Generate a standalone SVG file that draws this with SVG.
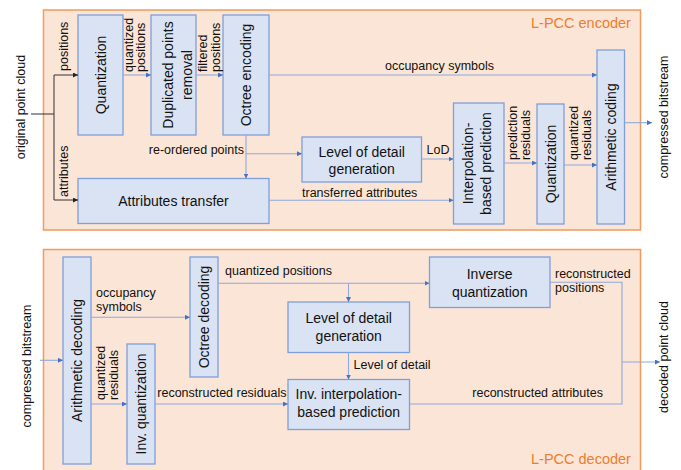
<svg xmlns="http://www.w3.org/2000/svg" width="681" height="470" viewBox="0 0 681 470">
<defs>
<marker id="ab" viewBox="0 0 6 6" refX="6" refY="3" markerWidth="5" markerHeight="5" markerUnits="userSpaceOnUse" orient="auto"><path d="M0,0 L6,3 L0,6 z" fill="#4472C4"/></marker>
<marker id="ak" viewBox="0 0 6 6" refX="6" refY="3" markerWidth="5" markerHeight="5" markerUnits="userSpaceOnUse" orient="auto"><path d="M0,0 L6,3 L0,6 z" fill="#222"/></marker>
<style>
.box{fill:#FBE5D6;stroke:#F19A5C;stroke-width:1.5}
.nd{fill:#DAE3F3;stroke:#7F9FDB;stroke-width:1.3}
.t{font-family:"Liberation Sans",Arial,sans-serif;font-size:14px;fill:#111}
.l{font-family:"Liberation Sans",Arial,sans-serif;font-size:12.5px;fill:#111}
.m{text-anchor:middle}
.ttl{font-family:"Liberation Sans",Arial,sans-serif;font-size:14.5px;fill:#ED7D31}
.c{fill:none;stroke:#8EA9DB;stroke-width:1.1}
.ca{fill:none;stroke:#8EA9DB;stroke-width:1.1;marker-end:url(#ab)}
.k{fill:none;stroke:#333;stroke-width:1}
.ka{fill:none;stroke:#333;stroke-width:1;marker-end:url(#ak)}
</style>
</defs>
<rect class="box" x="43.5" y="10" width="597" height="220"/>
<rect class="box" x="43.5" y="249.5" width="597" height="225"/>
<text class="ttl" x="531" y="28">L-PCC encoder</text>
<text class="ttl" x="531" y="463.5">L-PCC decoder</text>

<text class="l m" transform="translate(25,107) rotate(-90)">original point cloud</text>
<text class="l m" transform="translate(668,117) rotate(-90)">compressed bitstream</text>
<text class="l m" transform="translate(31,366) rotate(-90)">compressed bitstream</text>
<text class="l m" transform="translate(668,357) rotate(-90)">decoded point cloud</text>

<g id="enc-quant"><rect class="nd" x="78" y="15" width="45" height="120"/><text class="t m" transform="translate(100.5,75) rotate(-90)" y="5">Quantization</text></g>
<g id="enc-dup"><rect class="nd" x="151" y="15" width="45" height="120"/><text class="t m" transform="translate(173.5,75) rotate(-90)"><tspan x="0" y="-1">Duplicated points</tspan><tspan x="0" y="18">removal</tspan></text></g>
<g id="enc-octree"><rect class="nd" x="223" y="15" width="46" height="120"/><text class="t m" transform="translate(246,75) rotate(-90)" y="5">Octree encoding</text></g>
<g id="enc-lod"><rect class="nd" x="302" y="137" width="119.5" height="45"/><text class="t m"><tspan x="361.7" y="156.7">Level of detail</tspan><tspan x="361.7" y="173.5">generation</tspan></text></g>
<g id="enc-attr"><rect class="nd" x="78" y="178.5" width="191" height="45"/><text class="t m" x="173.5" y="205.5">Attributes transfer</text></g>
<g id="enc-interp"><rect class="nd" x="453.5" y="103" width="50.5" height="121"/><text class="t m" transform="translate(478.7,163.5) rotate(-90)"><tspan x="0" y="-5.5">Interpolation-</tspan><tspan x="0" y="12.5">based prediction</tspan></text></g>
<g id="enc-quant2"><rect class="nd" x="537" y="104" width="27" height="120"/><text class="t m" transform="translate(550.5,164) rotate(-90)" y="5">Quantization</text></g>
<g id="enc-arith"><rect class="nd" x="597" y="50" width="27.5" height="174"/><text class="t m" transform="translate(610.7,137) rotate(-90)" y="5">Arithmetic coding</text></g>

<g id="dec-arith"><rect class="nd" x="63" y="257" width="28" height="207"/><text class="t m" transform="translate(77,360.5) rotate(-90)" y="5">Arithmetic decoding</text></g>
<g id="dec-invq"><rect class="nd" x="127" y="344" width="28" height="120"/><text class="t m" transform="translate(141,404) rotate(-90)" y="5">Inv. quantization</text></g>
<g id="dec-octree"><rect class="nd" x="190" y="257" width="28" height="120"/><text class="t m" transform="translate(204,317) rotate(-90)" y="5">Octree decoding</text></g>
<g id="dec-lod"><rect class="nd" x="288" y="302" width="121.5" height="50.5"/><text class="t m"><tspan x="348.7" y="323.3">Level of detail</tspan><tspan x="348.7" y="340.7">generation</tspan></text></g>
<g id="dec-iq"><rect class="nd" x="429.5" y="257" width="120.5" height="50.5"/><text class="t m"><tspan x="489.7" y="279.3">Inverse</tspan><tspan x="489.7" y="296.7">quantization</tspan></text></g>
<g id="dec-interp"><rect class="nd" x="288" y="379.5" width="121.5" height="50"/><text class="t m"><tspan x="348.7" y="399.3">Inv. interpolation-</tspan><tspan x="348.7" y="416.7">based prediction</tspan></text></g>

<g id="connectors">
<path class="k" d="M31,114 H54"/>
<path class="ka" d="M54,75 V200 M54,75 H78"/>
<path class="ka" d="M54,200 H78"/>
<path class="ca" d="M123,75 H151"/>
<path class="ca" d="M196,75 H223"/>
<path class="ca" d="M269,75 H597"/>
<path class="ca" d="M246,135 V178.5"/>
<path class="ca" d="M246,153.7 H302"/>
<path class="ca" d="M421.5,159 H453.5"/>
<path class="ca" d="M269,200.3 H453.5"/>
<path class="ca" d="M504,163 H537"/>
<path class="ca" d="M564,165 H597"/>
<path class="ca" d="M624.5,122.7 H652"/>

<path class="ca" d="M40,360.3 H63"/>
<path class="ca" d="M91,317.3 H190"/>
<path class="ca" d="M218,283.3 H429.5"/>
<path class="ca" d="M348.5,283.3 V302"/>
<path class="ca" d="M348.5,352.5 V379.5"/>
<path class="ca" d="M91,404 H127"/>
<path class="ca" d="M155,404 H288"/>
<path class="c" d="M550,282.3 H622 V404 H409.5"/>
<path class="ca" d="M622,362 H660"/>
</g>

<text class="l" transform="translate(68,71) rotate(-90)">positions</text>
<text class="l" transform="translate(68,197) rotate(-90)">attributes</text>
<text class="l" transform="translate(133,72) rotate(-90)"><tspan x="0" y="0">quantized</tspan><tspan x="0" y="12">positions</tspan></text>
<text class="l" transform="translate(207,72) rotate(-90)"><tspan x="0" y="0">filtered</tspan><tspan x="0" y="12.5">positions</tspan></text>
<text class="l" transform="translate(516.5,160) rotate(-90)"><tspan x="0" y="0">prediction</tspan><tspan x="0" y="13">residuals</tspan></text>
<text class="l" transform="translate(578,160) rotate(-90)"><tspan x="0" y="0">quantized</tspan><tspan x="0" y="12.5">residuals</tspan></text>
<text class="l" x="439.5" y="70" text-anchor="middle">occupancy symbols</text>
<text class="l" x="244" y="154" text-anchor="end">re-ordered points</text>
<text class="l" x="426.5" y="154">LoD</text>
<text class="l" x="359.7" y="196.5" text-anchor="middle">transferred attributes</text>

<text class="l"><tspan x="96" y="297">occupancy</tspan><tspan x="96" y="311">symbols</tspan></text>
<text class="l" transform="translate(105,400) rotate(-90)"><tspan x="0" y="0">quantized</tspan><tspan x="0" y="12.5">residuals</tspan></text>
<text class="l" x="225" y="275">quantized positions</text>
<text class="l" x="353.5" y="369.3">Level of detail</text>
<text class="l" x="157.3" y="396.7">reconstructed residuals</text>
<text class="l"><tspan x="555" y="278.3">reconstructed</tspan><tspan x="555" y="291.5">positions</tspan></text>
<text class="l" x="472.3" y="396.7">reconstructed attributes</text>
</svg>
